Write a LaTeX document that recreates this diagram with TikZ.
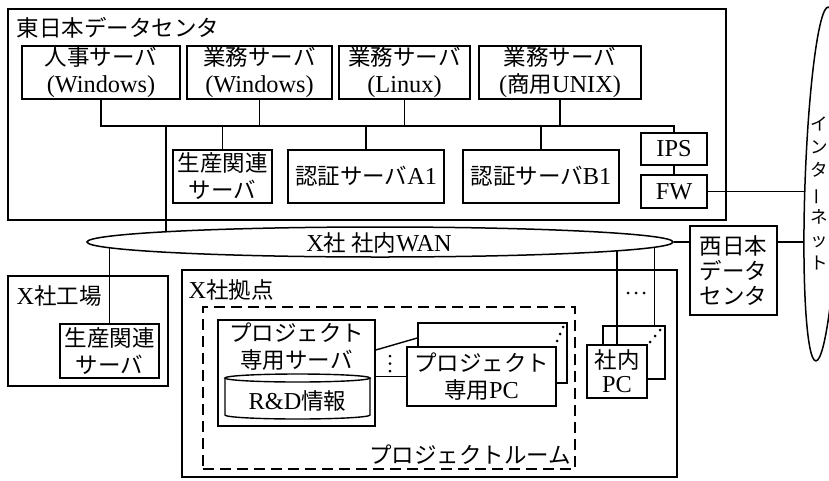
\documentclass[tikz,border=0pt]{standalone}
\usepackage{fontspec}
\setmainfont{Noto Sans CJK JP}
\newfontfamily\latinfont{Liberation Serif}[Scale=1.08]
\newcommand\la[1]{{\latinfont #1}}
\usetikzlibrary{shapes.geometric}
\begin{document}
\begin{tikzpicture}[x=1pt,y=-1pt,line width=1.4pt,
  every node/.style={font=\fontsize{22.5}{27}\selectfont,inner sep=0pt},
  box/.style={draw,fill=white,align=center,line width=1.5pt},
  zone/.style={draw,line width=2pt},
  room/.style={draw,line width=1.7pt,dash pattern=on 11pt off 6pt},
  dotm/.style={fill,circle,inner sep=0pt,minimum size=3pt},
  title/.style={anchor=west}]
\useasboundingbox (0,0) rectangle (829,480);

% ---------- East data center ----------
\node[zone,minimum width=718,minimum height=211] (east) at (367,114.5) {};
\node[title] (eastt) at (16,28) {東日本データセンタ};
\node[box,minimum width=158,minimum height=53] (jinji) at (101,72.5) {人事サーバ\\\la{(Windows)}};
\node[box,minimum width=145,minimum height=53] (gyomuW) at (259.5,72.5) {業務サーバ\\\la{(Windows)}};
\node[box,minimum width=131,minimum height=53] (gyomuL) at (404.5,72.5) {業務サーバ\\\la{(Linux)}};
\node[box,minimum width=162,minimum height=53] (gyomuU) at (560,72.5) {業務サーバ\\\la{(}商用\la{UNIX)}};
\node[box,minimum width=99,minimum height=53] (seisan) at (222.5,176.5) {生産関連\\サーバ};
\node[box,minimum width=156,minimum height=53] (authA) at (366,176.5) {認証サーバ\la{A1}};
\node[box,minimum width=156,minimum height=53] (authB) at (541,176.5) {認証サーバ\la{B1}};
\node[box,minimum width=66,minimum height=32] (ips) at (674,149) {\la{IPS}};
\node[box,minimum width=66,minimum height=33] (fw) at (674,191.5) {\la{FW}};

\coordinate (bus) at (0,126);
\coordinate (wanc) at (380,242);
\coordinate (inetc) at (822,184);
\draw (jinji.south) -- (jinji.south |- bus) -| (ips.north);
\draw (gyomuW.south) -- (gyomuW.south |- bus);
\draw (gyomuL.south) -- (gyomuL.south |- bus);
\draw (gyomuU.south) -- (gyomuU.south |- bus);
\draw (seisan.north) -- (seisan.north |- bus);
\draw (authA.north) -- (authA.north |- bus);
\draw (authB.north) -- (authB.north |- bus);
\draw (ips) -- (fw);
\coordinate (edrop) at (166,126);
\draw (edrop) -- (edrop |- wanc);
\draw (fw.east) -- (fw.east -| inetc);

% ---------- Factory ----------
\node[zone,minimum width=160,minimum height=110] (factory) at (88,331) {};
\node[title] (factoryt) at (16,296) {\la{X}社工場};
\node[box,minimum width=99,minimum height=54] (fseisan) at (109.5,351) {生産関連\\サーバ};
\draw (fseisan.north) -- (fseisan.north |- wanc);

% ---------- Base ----------
\node[zone,minimum width=495,minimum height=207] (base) at (429.5,373.5) {};
\node[title] (baset) at (188,290) {\la{X}社拠点};
\node[room,minimum width=372,minimum height=162] (room) at (389,388) {};
\node[anchor=east] (roomt) at (572,455) {プロジェクトルーム};

% project server with R&D cylinder
\node[box,minimum width=157,minimum height=106] (pserv) at (296.5,373) {};
\node[align=center] (pservt) at (296.5,346.5) {プロジェクト\\専用サーバ};
\draw (225,378) -- (225,415) arc[start angle=180,end angle=0,x radius=72.5,y radius=4] -- (370,378);
\draw (297.5,378) ellipse[x radius=72.5,y radius=4];
\node (rd) at (297.5,401) {\la{R\&D}情報};

% project PCs
\node[box,minimum width=149,minimum height=60] (pcb) at (492.5,353) {};
\node[dotm] (d1) at (563,327) {};
\node[dotm] (d2) at (560,334) {};
\node[dotm] (d3) at (557,341) {};
\node[box,minimum width=149,minimum height=59] (pcf) at (481.5,376.5) {プロジェクト\\専用\la{PC}};
\draw ([yshift=23pt]pserv.east) -- ([yshift=15pt]pcb.west);
\draw (pcf.west -| pserv.east) -- (pcf.west);
\node[dotm] (v1) at (390,356) {};
\node[dotm] (v2) at (390,363.5) {};
\node[dotm] (v3) at (390,371) {};

% office PCs
\node[box,minimum width=62,minimum height=53] (pcib) at (634,352.5) {};
\node[dotm] (e1) at (660,330) {};
\node[dotm] (e2) at (655,336) {};
\node[dotm] (e3) at (650,342) {};
\node[box,minimum width=60,minimum height=53,font=\fontsize{22.5}{24}\selectfont] (pcif) at (617,371.5) {社内\\\la{PC}};
\draw (pcif.north) -- (pcif.north |- wanc);
\draw ([xshift=-11pt]pcib.north east) -- ([xshift=-11pt]pcib.north east |- wanc);
\node[dotm] (h1) at (628,293) {};
\node[dotm] (h2) at (636,293) {};
\node[dotm] (h3) at (644,293) {};

% ---------- WAN ----------
\node[draw,ellipse,fill=white,minimum width=586,minimum height=30,line width=1.5pt] (wan) at (wanc) {};
\node (want) at (379,243) {\la{X}社 社内\la{WAN}};

% ---------- West data center ----------
\node[box,minimum width=87,minimum height=89,font=\fontsize{22.5}{25}\selectfont] (west) at (733.5,270.5) {西日本\\データ\\センタ};
\draw (wan.east) -- (wan.east -| west.west);
\draw (west.east |- wan.east) -- (wan.east -| inetc);

% ---------- Internet ----------
\node[draw,ellipse,fill=white,minimum width=34,minimum height=354,rotate=-2,line width=1.5pt] (inet) at (inetc) {};
\node[align=center,font=\fontsize{17.5}{23.3}\selectfont] (inett) at (819.5,193.5) {イ\\ン\\タ\\\rotatebox[origin=c]{90}{ー}\\ネ\\ッ\\ト};
\end{tikzpicture}
\end{document}
